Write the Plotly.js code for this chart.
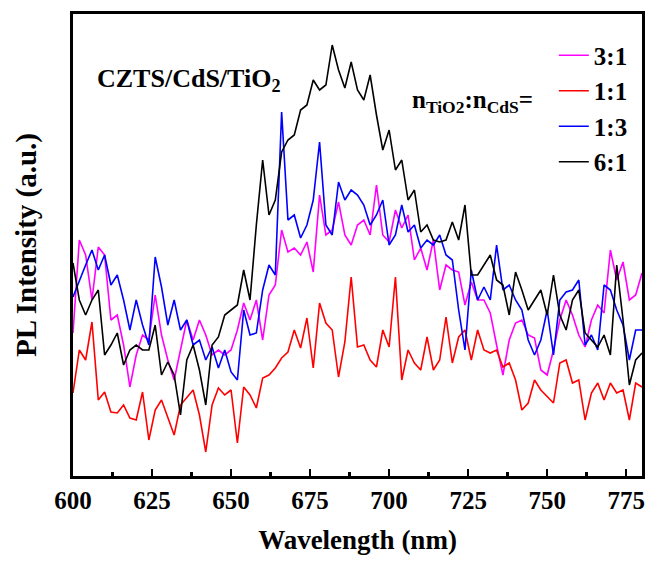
<!DOCTYPE html>
<html>
<head>
<meta charset="utf-8">
<script src="https://cdn.plot.ly/plotly-3.0.1.min.js"></script>
<style>html,body{margin:0;padding:0;background:#fff;}#chart{width:649px;height:561px;}</style>
</head>
<body>
<div id="chart"></div>
<script>
// Wavelength grid (nm)
const wavelength = [];
for (let w = 600; w <= 780; w += 2) wavelength.push(w);

// PL intensity (a.u.)
const series31 = [143,236,221,176,229,221,156,161,131,89,
  121,141,136,181,141,116,96,126,156,136,
  156,141,121,126,121,126,146,173,156,176,
  136,181,191,246,224,228,221,234,204,281,
  241,246,274,241,231,251,256,241,291,241,
  234,266,248,261,216,228,206,236,186,211,
  206,204,171,194,176,176,163,131,101,136,
  153,156,141,138,106,101,126,156,176,161,
  141,129,156,171,163,226,196,214,176,181,
  203];
const series11 = [83,126,116,154,76,84,64,63,71,58,
  56,84,36,66,76,58,41,71,78,86,
  61,24,71,88,81,86,33,89,81,68,
  98,101,108,118,124,146,128,158,108,173,
  153,146,99,134,199,129,131,116,109,146,
  129,199,96,126,113,106,139,106,116,159,
  113,139,146,116,146,126,123,126,109,113,
  96,66,73,96,86,79,73,113,116,93,
  96,56,83,93,76,93,83,86,56,93,
  89];
const series13 = [179,196,211,226,206,221,191,201,176,146,
  176,151,131,219,189,151,176,146,156,131,
  136,116,129,108,126,104,96,166,141,143,
  186,211,201,364,256,261,238,251,276,334,
  251,241,294,276,286,281,271,251,261,276,
  231,241,271,244,251,228,236,231,241,221,
  216,166,126,206,176,189,176,231,186,191,
  176,166,136,121,136,166,121,176,184,186,
  196,131,141,126,191,186,166,151,116,146,
  146];
const series61 = [213,176,161,176,186,121,131,143,111,126,
  131,126,126,151,101,114,101,61,116,131,
  106,71,131,139,161,166,171,206,176,251,
  316,261,276,324,336,341,366,371,396,386,
  391,431,406,388,414,386,376,401,361,326,
  346,306,316,276,286,244,251,236,234,236,
  254,236,271,201,201,211,221,196,191,161,
  204,186,166,176,186,161,201,161,146,176,
  186,143,136,129,141,121,211,156,91,116,
  123];

const names = ['3:1', '1:1', '1:3', '6:1'];
const colors = ['#FF00FF', '#FF0000', '#0000FF', '#000000'];
const xTicks = [600, 625, 650, 675, 700, 725, 750, 775];

const serif = 'Liberation Serif, Times New Roman, serif';
const allSeries = [series31, series11, series13, series61];
const traces = allSeries.map((ys, i) => ({
  x: wavelength, y: ys, type: 'scatter', mode: 'lines', name: names[i],
  line: {color: colors[i], width: 1.6}
}));

const layout = {
  width: 649, height: 561,
  margin: {l: 73, r: 7, t: 14, b: 85},
  paper_bgcolor: '#fff', plot_bgcolor: '#fff',
  font: {family: serif, color: '#000', size: 24, weight: 'bold'},
  showlegend: true,
  legend: {x: 0.845, y: 0.96, xanchor: 'left', yanchor: 'top', bgcolor: 'rgba(0,0,0,0)',
    font: {family: serif, size: 25, weight: 'bold', color: '#000'}, tracegroupgap: 0},
  xaxis: {
    range: [600, 780], tickvals: xTicks, ticktext: xTicks.map(String),
    ticks: 'inside', ticklen: 7, tickwidth: 2.5, tickcolor: '#000',
    minor: {tickvals: xTicks.map(v => v + 12.5), ticks: 'inside', ticklen: 4, tickwidth: 2.5, tickcolor: '#000'},
    showline: true, linewidth: 3, linecolor: '#000', mirror: true,
    showgrid: false, zeroline: false,
    tickfont: {family: serif, size: 25, weight: 'bold', color: '#000'},
    title: {text: 'Wavelength (nm)', font: {family: serif, size: 27, weight: 'bold', color: '#000'}, standoff: 18}
  },
  yaxis: {
    range: [0, 462], showticklabels: false, ticks: '',
    showline: true, linewidth: 3, linecolor: '#000', mirror: true,
    showgrid: false, zeroline: false,
    title: {text: 'PL Intensity (a.u.)', font: {family: serif, size: 29, weight: 'bold', color: '#000'}, standoff: 25}
  },
  annotations: [
    {text: 'CZTS/CdS/TiO<sub>2</sub>', xref: 'paper', yref: 'paper', x: 0.038, y: 0.857,
     xanchor: 'left', yanchor: 'middle', showarrow: false,
     font: {family: serif, size: 26, weight: 'bold', color: '#000'}},
    {text: 'n<sub>TiO2</sub>:n<sub>CdS</sub>=', xref: 'paper', yref: 'paper', x: 0.593, y: 0.81,
     xanchor: 'left', yanchor: 'middle', showarrow: false,
     font: {family: serif, size: 25, weight: 'bold', color: '#000'}}
  ]
};

Plotly.newPlot('chart', traces, layout, {displayModeBar: false, staticPlot: true});
</script>
</body>
</html>
